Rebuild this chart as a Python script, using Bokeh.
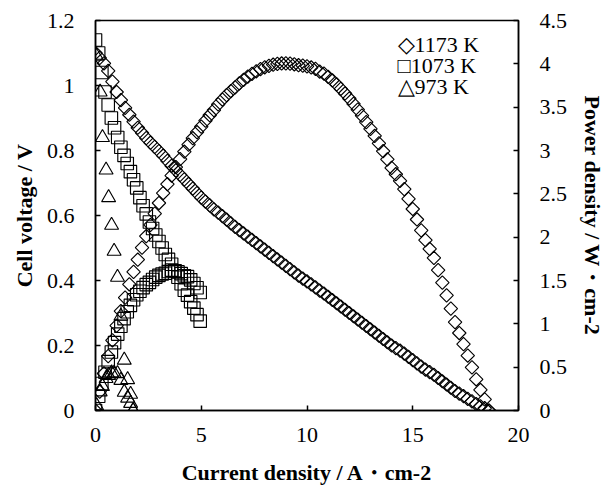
import math
from bokeh.plotting import figure
from bokeh.models import Range1d, LinearAxis, FixedTicker, Label
from bokeh.embed import file_html
from bokeh.resources import INLINE

# ---------------- data ----------------
x_ticks = [0, 5, 10, 15, 20]
v_ticks = [0, 0.2, 0.4, 0.6, 0.8, 1.0, 1.2]
v_tick_labels = ["0", "0.2", "0.4", "0.6", "0.8", "1", "1.2"]
p_ticks = [0, 0.5, 1.0, 1.5, 2.0, 2.5, 3.0, 3.5, 4.0, 4.5]
p_tick_labels = ["0", "0.5", "1", "1.5", "2", "2.5", "3", "3.5", "4", "4.5"]

legend_labels = ["\u25c71173 K", "\u25a11073 K", "\u25b3973 K"]

# 1173 K
i_1173 = [0.0, 0.2, 0.4, 0.6, 0.8, 1.0, 1.2, 1.4, 1.6, 1.8, 2.0, 2.2, 2.4, 2.6, 2.8,
          3.0, 3.2, 3.4, 3.6, 3.8, 4.0, 4.2, 4.4, 4.6, 4.8, 5.0, 5.2, 5.4, 5.6, 5.8,
          6.0, 6.2, 6.4, 6.6, 6.8, 7.0, 7.2, 7.4, 7.6, 7.8, 8.0, 8.2, 8.4, 8.6, 8.8,
          9.0, 9.2, 9.4, 9.6, 9.8, 10.0, 10.2, 10.4, 10.6, 10.8, 11.0, 11.2, 11.4, 11.6, 11.8,
          12.0, 12.2, 12.4, 12.6, 12.8, 13.0, 13.2, 13.4, 13.6, 13.8, 14.0, 14.2, 14.4, 14.6, 14.8,
          15.0, 15.2, 15.4, 15.6, 15.8, 16.0, 16.2, 16.4, 16.6, 16.8, 17.0, 17.2, 17.4, 17.6, 17.8,
          18.0, 18.2, 18.4, 18.6]
v_1173 = [1.100, 1.085, 1.068, 1.045, 1.012, 0.980, 0.955, 0.931, 0.910, 0.889, 0.870, 0.854, 0.838, 0.824, 0.811,
          0.798, 0.784, 0.768, 0.753, 0.739, 0.725, 0.711, 0.697, 0.683, 0.669, 0.655, 0.643, 0.631, 0.619, 0.609,
          0.598, 0.587, 0.576, 0.565, 0.555, 0.545, 0.535, 0.525, 0.515, 0.505, 0.495, 0.485, 0.475, 0.465, 0.455,
          0.445, 0.435, 0.425, 0.415, 0.406, 0.397, 0.388, 0.379, 0.369, 0.360, 0.350, 0.340, 0.330, 0.320, 0.310,
          0.300, 0.290, 0.280, 0.270, 0.260, 0.250, 0.240, 0.230, 0.220, 0.210, 0.200, 0.192, 0.184, 0.175, 0.165,
          0.155, 0.145, 0.135, 0.126, 0.118, 0.110, 0.100, 0.090, 0.080, 0.070, 0.060, 0.052, 0.044, 0.036, 0.028,
          0.020, 0.013, 0.007, 0.000]
p_1173 = [0.000, 0.217, 0.427, 0.627, 0.810, 0.980, 1.146, 1.303, 1.456, 1.600, 1.740, 1.879, 2.011, 2.142, 2.271,
          2.394, 2.509, 2.611, 2.711, 2.808, 2.900, 2.986, 3.067, 3.142, 3.211, 3.275, 3.344, 3.407, 3.466, 3.532,
          3.588, 3.639, 3.686, 3.729, 3.774, 3.815, 3.852, 3.885, 3.914, 3.939, 3.960, 3.977, 3.990, 3.999, 4.004,
          4.005, 4.002, 3.995, 3.984, 3.979, 3.970, 3.958, 3.942, 3.911, 3.888, 3.850, 3.808, 3.762, 3.712, 3.658,
          3.600, 3.538, 3.472, 3.402, 3.328, 3.250, 3.168, 3.082, 2.992, 2.898, 2.800, 2.726, 2.650, 2.555, 2.442,
          2.325, 2.204, 2.079, 1.966, 1.864, 1.760, 1.620, 1.476, 1.328, 1.176, 1.020, 0.894, 0.766, 0.634, 0.498,
          0.360, 0.237, 0.129, 0.000]

# 1073 K
i_1073 = [0.00, 0.15, 0.30, 0.45, 0.60, 0.75, 0.90, 1.05, 1.20, 1.35, 1.50, 1.65, 1.80, 1.95, 2.10, 2.25, 2.40,
          2.55, 2.70, 2.85, 3.00, 3.15, 3.30, 3.45, 3.60, 3.75, 3.90, 4.05, 4.20, 4.35, 4.50, 4.65, 4.80, 4.95]
v_1073 = [1.14, 1.10, 1.04, 0.98, 0.94, 0.90, 0.87, 0.84, 0.81, 0.785, 0.76, 0.735, 0.71, 0.685, 0.655, 0.63, 0.605,
          0.58, 0.56, 0.54, 0.52, 0.50, 0.48, 0.465, 0.45, 0.43, 0.41, 0.39, 0.37, 0.355, 0.335, 0.315, 0.295, 0.275]
p_1073 = [0.000, 0.165, 0.312, 0.441, 0.564, 0.675, 0.783, 0.882, 0.972, 1.060, 1.140, 1.213, 1.278, 1.336, 1.376,
          1.418, 1.452, 1.479, 1.512, 1.539, 1.560, 1.575, 1.584, 1.604, 1.620, 1.613, 1.599, 1.580, 1.554, 1.544,
          1.508, 1.465, 1.416, 1.361]

# 973 K
i_973 = [0.05, 0.22, 0.33, 0.50, 0.62, 0.76, 0.88, 1.04, 1.20, 1.36, 1.52, 1.66, 1.78]
v_973 = [1.09, 0.98, 0.84, 0.74, 0.655, 0.57, 0.49, 0.41, 0.29, 0.155, 0.095, 0.05, 0.0]
p_973 = [0.055, 0.216, 0.277, 0.370, 0.406, 0.433, 0.431, 0.426, 0.348, 0.211, 0.144, 0.083, 0.0]

# ---------------- figure ----------------
SERIF = "Liberation Serif"
TICK_FS = "22px"
TITLE_FS = "22px"

p = figure(width=610, height=488, output_backend="svg", toolbar_location=None,
           x_range=Range1d(0, 20), y_range=Range1d(0, 1.2),
           min_border_left=95, min_border_right=92, min_border_top=20, min_border_bottom=78)
p.extra_y_ranges = {"power": Range1d(0, 4.5)}
p.grid.visible = False
p.outline_line_color = "black"
p.outline_line_width = 1.5
p.background_fill_color = "white"
p.border_fill_color = "white"

ax_r = LinearAxis(y_range_name="power")
p.add_layout(ax_r, "right")

xa = p.xaxis[0]
ya = p.yaxis[0]
for ax in (xa, ya, ax_r):
    ax.major_tick_in = 5
    ax.major_tick_out = 0
    ax.minor_tick_line_color = None
    ax.axis_line_color = "black"
    ax.axis_line_width = 1.5
    ax.major_tick_line_color = "black"
    ax.major_tick_line_width = 1.5
    ax.major_label_text_font = SERIF
    ax.major_label_text_font_size = TICK_FS
    ax.major_label_text_color = "black"
    ax.axis_label_text_font = SERIF
    ax.axis_label_text_font_style = "bold"
    ax.axis_label_text_font_size = TITLE_FS
    ax.axis_label_text_color = "black"

xa.ticker = FixedTicker(ticks=x_ticks)
xa.major_label_standoff = 17
xa.axis_label = "Current density / A\u30fbcm-2"
xa.axis_label_standoff = 15

ya.ticker = FixedTicker(ticks=v_ticks)
ya.major_label_overrides = {t: s for t, s in zip(v_ticks, v_tick_labels)}
ya.major_label_standoff = 21
ya.axis_label = "Cell voltage / V"
ya.axis_label_standoff = 7

ax_r.ticker = FixedTicker(ticks=p_ticks)
ax_r.major_label_overrides = {t: s for t, s in zip(p_ticks, p_tick_labels)}
ax_r.major_label_standoff = 21
ax_r.axis_label = "Power density / W\u30fbcm-2"
ax_r.axis_label_standoff = 10

# ---------------- series ----------------
common = dict(fill_color=None, line_color="black", line_width=1.15)
# 1173 K: diamonds (rotated squares)
p.scatter(i_1173, v_1173, marker="square", size=9.5, angle=math.pi / 4, **common)
p.scatter(i_1173, p_1173, marker="square", size=9.5, angle=math.pi / 4, y_range_name="power", **common)
# 1073 K: squares
p.scatter(i_1073, v_1073, marker="square", size=12.5, **common)
p.scatter(i_1073, p_1073, marker="square", size=12.5, y_range_name="power", **common)
# 973 K: triangles
p.scatter(i_973, v_973, marker="triangle", size=14, **common)
p.scatter(i_973, p_973, marker="triangle", size=14, y_range_name="power", **common)

# legend (symbol + text, as text lines)
for k, lab in enumerate(legend_labels):
    p.add_layout(Label(x=302, y=366 - 21 * k, x_units="screen", y_units="screen",
                       text=lab, text_baseline="middle", text_align="left",
                       text_font=SERIF, text_font_size=TICK_FS, text_color="black"))

open("out.html", "w").write(file_html(p, INLINE))
